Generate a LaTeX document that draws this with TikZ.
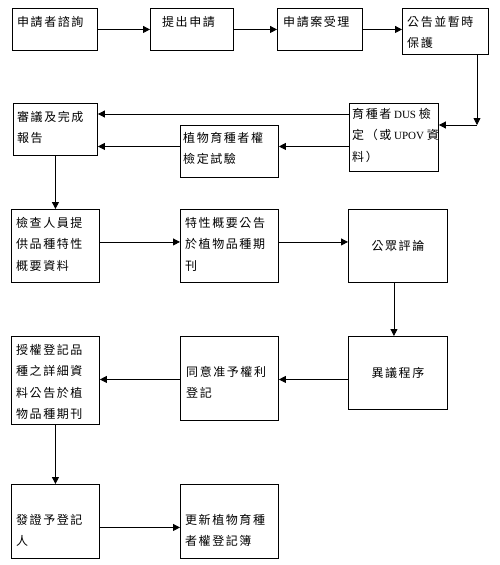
\documentclass[tikz,border=0pt]{standalone}
\usepackage{fontspec}
\newfontfamily\cjk{Noto Sans CJK TC}[LetterSpace=13]
\newfontfamily\latn{Liberation Serif}
\usetikzlibrary{arrows.meta}
\begin{document}
\begin{tikzpicture}[x=1pt,y=-1pt,
  box/.style={draw, line width=0.9pt, rectangle, inner sep=0pt, anchor=north west},
  txt/.style={anchor=north west, inner sep=0pt, align=left, font=\cjk\fontsize{12}{21.5}\selectfont},
  ctxt/.style={inner sep=0pt, font=\cjk\fontsize{12}{21.5}\selectfont},
  arr/.style={-{Triangle[length=7pt,width=7pt]}, line width=0.8pt}]
\useasboundingbox (0,0) rectangle (499,565);
% boxes
\node[box, minimum width=85pt, minimum height=42pt] (A) at (12,8) {};
\node[box, minimum width=83pt, minimum height=42pt] (B) at (150,8) {};
\node[box, minimum width=85pt, minimum height=42pt] (C) at (277,8) {};
\node[box, minimum width=86pt, minimum height=46pt] (D) at (402,8) {};
\node[box, minimum width=84pt, minimum height=52pt] (R) at (13,103) {};
\node[box, minimum width=98pt, minimum height=52pt] (P) at (180,125) {};
\node[box, minimum width=89pt, minimum height=68pt] (U) at (349,103) {};
\node[box, minimum width=88pt, minimum height=73pt] (K) at (11,209) {};
\node[box, minimum width=98pt, minimum height=73pt] (T) at (180,209) {};
\node[box, minimum width=99pt, minimum height=73pt] (G) at (348,209) {};
\node[box, minimum width=88pt, minimum height=88pt] (S) at (11,336) {};
\node[box, minimum width=98pt, minimum height=84pt] (Y) at (180,336) {};
\node[box, minimum width=99pt, minimum height=73pt] (X) at (348,336) {};
\node[box, minimum width=88pt, minimum height=74pt] (F) at (11,484) {};
\node[box, minimum width=98pt, minimum height=74pt] (N) at (180,484) {};
% texts
\node[txt] (tA) at ([shift={(5,8)}]A.north west) {申請者諮詢};
\node[txt] (tB) at ([shift={(12,8)}]B.north west) {提出申請};
\node[txt] (tC) at ([shift={(6,8)}]C.north west) {申請案受理};
\node[txt] (tD) at ([shift={(5,8)}]D.north west) {公告並暫時\\保護};
\node[txt] (tR) at ([shift={(4,8)}]R.north west) {審議及完成\\報告};
\node[txt] (tP) at ([shift={(3,7)}]P.north west) {植物育種者權\\檢定試驗};
\node[txt] (tU) at ([shift={(3,5)}]U.north west) {育種者{\latn\fontsize{11}{21.5}\selectfont\ DUS\ }檢\\定（或{\latn\fontsize{11}{21.5}\selectfont\ UPOV\ }資\\料）};
\node[txt] (tK) at ([shift={(5,8)}]K.north west) {檢查人員提\\供品種特性\\概要資料};
\node[txt] (tT) at ([shift={(5,8)}]T.north west) {特性概要公告\\於植物品種期\\刊};
\node[ctxt] (tG) at (G.center) {公眾評論};
\node[txt] (tS) at ([shift={(5,8)}]S.north west) {授權登記品\\種之詳細資\\料公告於植\\物品種期刊};
\node[txt] (tY) at ([shift={(6,30)}]Y.north west) {同意准予權利\\登記};
\node[ctxt] (tX) at (X.center) {異議程序};
\node[txt] (tF) at ([shift={(5,30)}]F.north west) {發證予登記\\人};
\node[txt] (tN) at ([shift={(5,30)}]N.north west) {更新植物育種\\者權登記簿};
% connectors
\draw[arr] (A.east) -- (B.west);
\draw[arr] (B.east) -- (C.west);
\draw[arr] (C.east) -- (C.east -| D.west);
\coordinate (turn) at (477,125);
\draw[arr] (D.south -| turn) -- (turn);
\draw[arr] (turn) -- (turn -| U.east);
\draw[arr] ([yshift=-11pt]U.north west) -- ([yshift=-11pt]U.north west -| R.east);
\draw[arr] ([yshift=5pt]P.east -| U.west) -- ([yshift=5pt]P.east);
\draw[arr] ([yshift=5pt]P.west) -- ([yshift=5pt]P.west -| R.east);
\draw[arr] (R.south) -- (K.north);
\draw[arr] ([yshift=4pt]K.east) -- ([yshift=4pt]K.east -| T.west);
\draw[arr] ([yshift=4pt]T.east) -- ([yshift=4pt]T.east -| G.west);
\draw[arr] ([xshift=-4pt]G.south) -- ([xshift=-4pt]G.south |- X.north);
\draw[arr] ([yshift=-6.5pt]X.west) -- ([yshift=-6.5pt]X.west -| Y.east);
\draw[arr] ([yshift=-1pt]Y.west) -- ([yshift=-1pt]Y.west -| S.east);
\draw[arr] (S.south) -- (F.north);
\draw[arr] ([yshift=-6pt]F.east) -- ([yshift=-6pt]F.east -| N.west);
\end{tikzpicture}
\end{document}
